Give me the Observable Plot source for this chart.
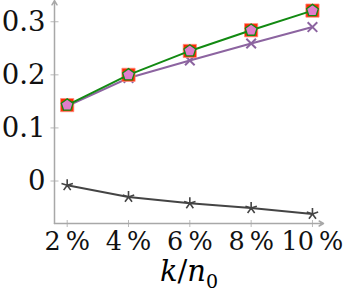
<!DOCTYPE html>
<html>
<head>
<meta charset="utf-8">
<script src="https://cdn.jsdelivr.net/npm/d3@7"></script>
<script src="https://cdn.jsdelivr.net/npm/@observablehq/plot@0.6"></script>
<style>
  html, body { margin: 0; padding: 0; background: #fff; }
  svg { display: block; }
  text { font-family: "DejaVu Serif" !important; }
</style>
</head>
<body>
<div id="chart"></div>
<script>
// ---- data ----
const xValues = [2, 4, 6, 8, 10];
const xTicks = [2, 4, 6, 8, 10];
const xTickLabels = ["2\u2009%", "4\u2009%", "6\u2009%", "8\u2009%", "10\u2009%"];
const yTicks = [0, 0.1, 0.2, 0.3];
const yTickLabels = ["0", "0.1", "0.2", "0.3"];
const squareValues = [0.143, 0.200, 0.245, 0.284, 0.321];
const pentagonValues = [0.143, 0.200, 0.245, 0.284, 0.321];
const purpleValues = [0.141, 0.194, 0.227, 0.259, 0.290];
const grayValues = [-0.008, -0.030, -0.042, -0.051, -0.062];
const xDomain = [1.586, 10.36];
const yDomain = [-0.08, 0.34];
const xLabel = "k/n0";

const rows = (vals) => xValues.map((x, i) => ({x, y: vals[i]}));

// ---- custom symbols ----
const squareSym = { draw(ctx, size) { const r = Math.sqrt(size / Math.PI); ctx.rect(-r, -r, 2 * r, 2 * r); } };
const pentagonSym = { draw(ctx, size) {
  const r = Math.sqrt(size / Math.PI);
  for (let k = 0; k < 5; k++) {
    const a = -Math.PI / 2 + k * 2 * Math.PI / 5;
    const px = r * Math.cos(a), py = r * Math.sin(a);
    if (k === 0) ctx.moveTo(px, py); else ctx.lineTo(px, py);
  }
  ctx.closePath();
} };
const timesSym = { draw(ctx, size) {
  const r = Math.sqrt(size / Math.PI);
  ctx.moveTo(-r, -r); ctx.lineTo(r, r); ctx.moveTo(-r, r); ctx.lineTo(r, -r);
} };
const starSym = { draw(ctx, size) {
  const r = Math.sqrt(size / Math.PI);
  for (let k = 0; k < 5; k++) {
    const a = -Math.PI / 2 + k * 2 * Math.PI / 5;
    ctx.moveTo(0, 0); ctx.lineTo(r * Math.cos(a), r * Math.sin(a));
  }
} };
const hTickSym = { draw(ctx, size) { const r = Math.sqrt(size / Math.PI); ctx.moveTo(-r, 0); ctx.lineTo(r, 0); } };
const vTickSym = { draw(ctx, size) { const r = Math.sqrt(size / Math.PI); ctx.moveTo(0, -r); ctx.lineTo(0, r); } };

const green = "#128a12";
const purple = "#8c64a0";
const gray = "#444444";
const axisGray = "#a8a8a8";

const plot = Plot.plot({
  width: 347,
  height: 293,
  marginLeft: 54,
  marginRight: 24,
  marginTop: 0,
  marginBottom: 70,
  x: { domain: xDomain, axis: null },
  y: { domain: yDomain, axis: null },
  marks: [
    Plot.dot(yTicks, { x: () => xDomain[0], y: d => d, symbol: hTickSym, r: 4, stroke: axisGray, strokeWidth: 0.8, fill: "none" }),
    Plot.dot(xTicks, { x: d => d, y: () => yDomain[0], symbol: vTickSym, r: 3.5, stroke: axisGray, strokeWidth: 0.8, fill: "none" }),
    Plot.arrow([{x1: xDomain[0], y1: yDomain[0], x2: xDomain[0], y2: yDomain[1]}], { x1: "x1", y1: "y1", x2: "x2", y2: "y2", stroke: axisGray, strokeWidth: 1.5, headLength: 5, insetEnd: 0 }),
    Plot.arrow([{x1: xDomain[0], y1: yDomain[0], x2: xDomain[1], y2: yDomain[0]}], { x1: "x1", y1: "y1", x2: "x2", y2: "y2", stroke: axisGray, strokeWidth: 1.5, headLength: 5, insetEnd: 0 }),
    Plot.axisY({ ticks: yTicks, tickFormat: d => yTickLabels[yTicks.indexOf(d)], tickSize: 0, tickPadding: 9, fontSize: 27.5, anchor: "left", color: "#111" }),
    Plot.axisX({ ticks: xTicks, tickFormat: d => xTickLabels[xTicks.indexOf(d)], tickSize: 0, tickPadding: 8, fontSize: 25.5, anchor: "bottom", color: "#111" }),
    Plot.line(rows(grayValues), { x: "x", y: "y", stroke: gray, strokeWidth: 2 }),
    Plot.dot(rows(grayValues), { x: "x", y: "y", symbol: starSym, r: 6, stroke: gray, strokeWidth: 1.6, fill: "none" }),
    Plot.line(rows(purpleValues), { x: "x", y: "y", stroke: purple, strokeWidth: 2 }),
    Plot.dot(rows(purpleValues), { x: "x", y: "y", symbol: timesSym, r: 4.8, stroke: purple, strokeWidth: 2, fill: "none" }),
    Plot.dot(rows(squareValues), { x: "x", y: "y", symbol: squareSym, r: 6.6, fill: "#ff2a00", stroke: "#ff8a80", strokeWidth: 0.8 }),
    Plot.line(rows(pentagonValues), { x: "x", y: "y", stroke: green, strokeWidth: 2 }),
    Plot.dot(rows(pentagonValues), { x: "x", y: "y", symbol: pentagonSym, r: 6.2, fill: "#e27ccc", stroke: green, strokeWidth: 1.3 }),
    Plot.text([xLabel], { text: d => d, frameAnchor: "bottom", dy: 48, fontSize: 29, lineAnchor: "middle" })
  ]
});

const lab = d3.select(plot).selectAll("text").filter(function() { return this.textContent === xLabel; });
lab.each(function() {
  const t = d3.select(this);
  t.text(null);
  t.append("tspan").attr("font-style", "italic").text("k");
  t.append("tspan").text("/");
  t.append("tspan").attr("font-style", "italic").text("n");
  t.append("tspan").attr("font-size", 19).attr("dy", 7).text("0");
});

document.getElementById("chart").appendChild(plot);
</script>
</body>
</html>
